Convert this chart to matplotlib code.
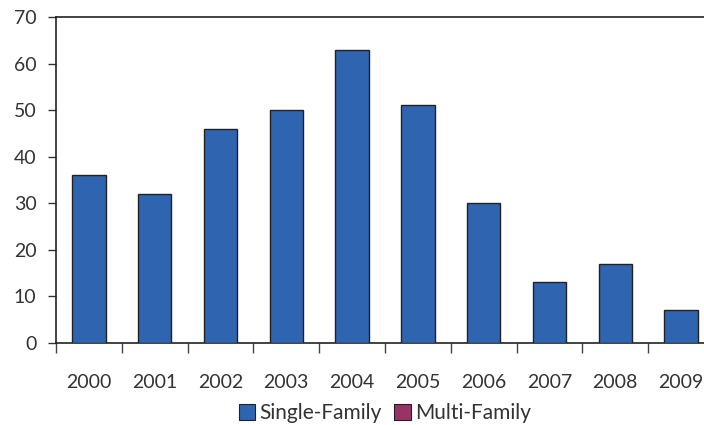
import matplotlib
matplotlib.use("Agg")
import matplotlib.pyplot as plt
import numpy as np
from matplotlib.patches import Patch

years = ["2000", "2001", "2002", "2003", "2004", "2005", "2006", "2007", "2008", "2009"]
single_family = [36, 32, 46, 50, 63, 51, 30, 13, 17, 7]
multi_family = [0, 0, 0, 0, 0, 0, 0, 0, 0, 0]

plt.rcParams['font.family'] = ['Lato', 'DejaVu Sans']

fig = plt.figure(figsize=(7.04, 4.25), dpi=100)
ax = fig.add_axes([56/704, (425-343)/425, (714-56)/704, (343-17)/425])

x = np.arange(len(years))
ax.bar(x, single_family, width=0.51, color="#2F64B0", edgecolor="#222222", linewidth=1.0, zorder=3)
ax.bar(x + 0.3, multi_family, width=0.0, color="#993366", linewidth=0)

ax.set_xlim(-0.5, len(years) - 0.5)
ax.set_ylim(0, 70)
ax.set_yticks(range(0, 71, 10))
ax.tick_params(axis='y', labelsize=14, colors="#333333", length=6, width=1, pad=8, labelcolor="#333333")
ax.set_xticks(x)
ax.set_xticklabels(years)
ax.tick_params(axis='x', which='major', length=0, labelsize=14, pad=22, labelcolor="#333333")
ax.set_xticks(np.arange(-0.5, len(years), 1), minor=True)
ax.tick_params(axis='x', which='minor', length=7, width=1, color="#444444", direction='out')

for s in ['top', 'bottom', 'left']:
    ax.spines[s].set_color("#222222")
    ax.spines[s].set_linewidth(1.2)
ax.spines['right'].set_visible(False)

handles = [Patch(facecolor="#2F64B0", edgecolor="#222222", linewidth=0.8, label="Single-Family"),
           Patch(facecolor="#993366", edgecolor="#222222", linewidth=0.8, label="Multi-Family")]
fig.legend(handles=handles, loc='center', bbox_to_anchor=(385/704, 1 - 413/425), ncol=2, frameon=False,
           fontsize=15, handlelength=0.8, handleheight=0.8, handletextpad=0.2, columnspacing=0.6,
           labelcolor="#333333")

fig.savefig("out.png", dpi=100)
